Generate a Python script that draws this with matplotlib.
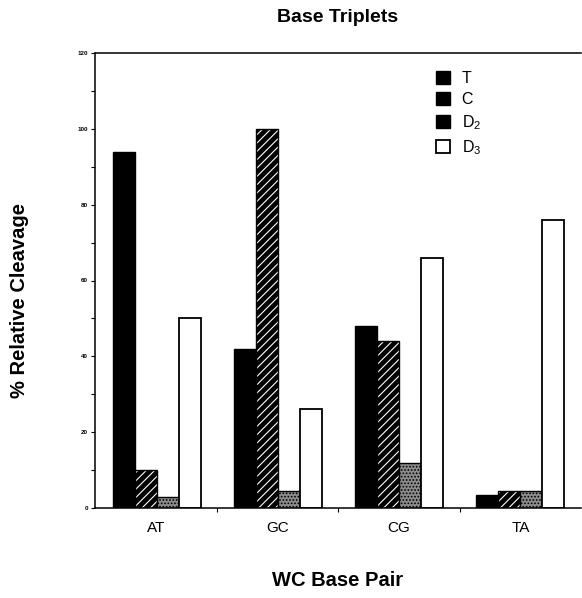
import matplotlib
matplotlib.use("Agg")
import matplotlib.pyplot as plt
from matplotlib.patches import Patch
import numpy as np

plt.rcParams['font.family'] = ['Liberation Sans', 'DejaVu Sans']
plt.rcParams['mathtext.fontset'] = 'custom'
plt.rcParams['mathtext.rm'] = 'Liberation Sans'
plt.rcParams['mathtext.it'] = 'Liberation Sans'
plt.rcParams['hatch.linewidth'] = 0.8

categories = ["AT", "GC", "CG", "TA"]
series_names = ["T", "C", "D$_2$", "D$_3$"]
T_vals = [94, 42, 48, 3.4]
C_vals = [10, 100, 44, 4.6]
D2_vals = [3, 4.5, 12, 4.6]
D3_vals = [50, 26, 66, 76]
y_ticks = [0, 20, 40, 60, 80, 100, 120]

W, H = 582, 598
fig = plt.figure(figsize=(W / 100, H / 100), dpi=100)
ax = fig.add_axes([95 / W, 1 - 508 / H, (581 - 95) / W, (508 - 53) / H])

x = np.arange(len(categories))
bw = 22 / 121.5
offs = (np.arange(4) - 1.5) * bw

# T: solid black
ax.bar(x + offs[0], T_vals, bw, color='black', edgecolor='black', linewidth=1.0)
# C: black with white diagonal hatch
ax.bar(x + offs[1], C_vals, bw, color='black', edgecolor='white', hatch='////', linewidth=0)
ax.bar(x + offs[1], C_vals, bw, fill=False, edgecolor='black', linewidth=1.0)
# D2: stippled gray
ax.bar(x + offs[2], D2_vals, bw, color='#8c8c8c', edgecolor='black', hatch='.....', linewidth=0)
ax.bar(x + offs[2], D2_vals, bw, fill=False, edgecolor='black', linewidth=1.0)
# D3: white with outline
ax.bar(x + offs[3], D3_vals, bw, color='white', edgecolor='black', linewidth=1.3)

ax.set_xlim(-0.508, 3.5)
ax.set_ylim(0, 120)
ax.set_yticks(y_ticks)
ax.set_yticklabels([str(v) for v in y_ticks], fontsize=4.5, fontweight='bold')
ax.set_yticks(np.arange(10, 120, 20), minor=True)
ax.tick_params(axis='y', which='both', direction='out', length=3, width=0.8, pad=2)
ax.set_xticks(x)
ax.set_xticklabels(categories, fontsize=11)
ax.set_xticks([0.5, 1.5, 2.5], minor=True)
ax.tick_params(axis='x', which='major', length=0, pad=9)
ax.tick_params(axis='x', which='minor', direction='out', length=3, width=0.8)

ax.spines['right'].set_visible(False)
for s in ['left', 'top', 'bottom']:
    ax.spines[s].set_linewidth(1.1)

handles = [
    Patch(facecolor='black', edgecolor='black'),
    Patch(facecolor='black', edgecolor='black'),
    Patch(facecolor='black', edgecolor='black'),
    Patch(facecolor='white', edgecolor='black', linewidth=1.3),
]
leg = ax.legend(handles, series_names, loc='upper left',
                bbox_to_anchor=(436 / W, 1 - 71 / H), bbox_transform=fig.transFigure,
                frameon=False, fontsize=11.5, handlelength=0.85, handleheight=0.85,
                handletextpad=0.75, labelspacing=0.38, borderpad=0, borderaxespad=0)

fig.text(338 / W, 1 - 18 / H, "Base Triplets", ha='center', va='center',
         fontsize=14, fontweight='bold')
fig.text(338 / W, 1 - 581 / H, "WC Base Pair", ha='center', va='center',
         fontsize=14.5, fontweight='bold')
fig.text(20 / W, 1 - 300 / H, "% Relative Cleavage", ha='center', va='center',
         rotation=90, fontsize=14.5, fontweight='bold')

fig.savefig("out.png", dpi=100)
